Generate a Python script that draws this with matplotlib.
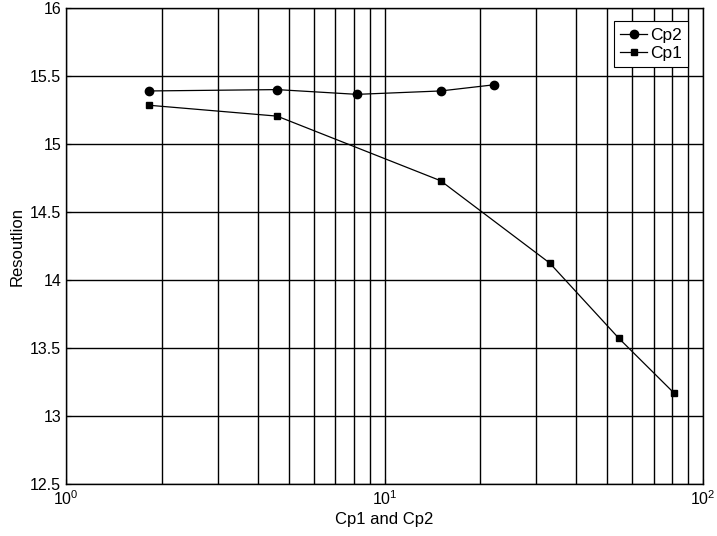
import numpy as np
import matplotlib.pyplot as plt

plt.rcParams['font.family'] = ['Liberation Sans', 'DejaVu Sans']
plt.rcParams['mathtext.fontset'] = 'custom'
plt.rcParams['mathtext.rm'] = 'Liberation Sans'
plt.rcParams['mathtext.it'] = 'Liberation Sans'

# values
cp2_x = [1.82, 4.6, 8.2, 15.0, 22.0]
cp2_y = [15.39, 15.40, 15.365, 15.39, 15.435]
cp1_x = [1.82, 4.6, 15.0, 33.0, 54.5, 81.0]
cp1_y = [15.285, 15.205, 14.73, 14.125, 13.57, 13.17]

fig = plt.figure(figsize=(7.17, 5.36), dpi=100)
ax = fig.add_axes([66/717, 1 - 484/536, (703-66)/717, (484-8)/536])

ax.plot(cp2_x, cp2_y, '-o', color='black', lw=0.9, ms=6, label='Cp2')
ax.plot(cp1_x, cp1_y, '-s', color='black', lw=0.9, ms=4.5, label='Cp1')

ax.set_xscale('log')
ax.set_xlim(1, 100)
ax.set_ylim(12.5, 16)
ax.set_yticks(np.arange(12.5, 16.01, 0.5))
ax.set_yticklabels(['12.5', '13', '13.5', '14', '14.5', '15', '15.5', '16'])
ax.set_xticks([1, 10, 100])
ax.set_xticklabels([r'$10^{0}$', r'$10^{1}$', r'$10^{2}$'])

ax.grid(True, which='both', color='black', lw=1.0, ls='-')
ax.tick_params(which='both', direction='in', labelsize=11.5, top=False, right=False)
ax.tick_params(axis='x', which='minor', length=3)
for s in ax.spines.values():
    s.set_linewidth(1.0)

ax.set_xlabel('Cp1 and Cp2', fontsize=12, labelpad=3)
ax.set_ylabel('Resoutlion', fontsize=12, labelpad=4)

leg = ax.legend(loc='upper right', fontsize=12.5, handlelength=1.6, handletextpad=0.15,
                borderpad=0.35, labelspacing=0.2, fancybox=False, framealpha=1,
                edgecolor='black', bbox_to_anchor=(0.99, 0.99))
leg.get_frame().set_linewidth(0.8)

fig.savefig('out.png', dpi=100)
